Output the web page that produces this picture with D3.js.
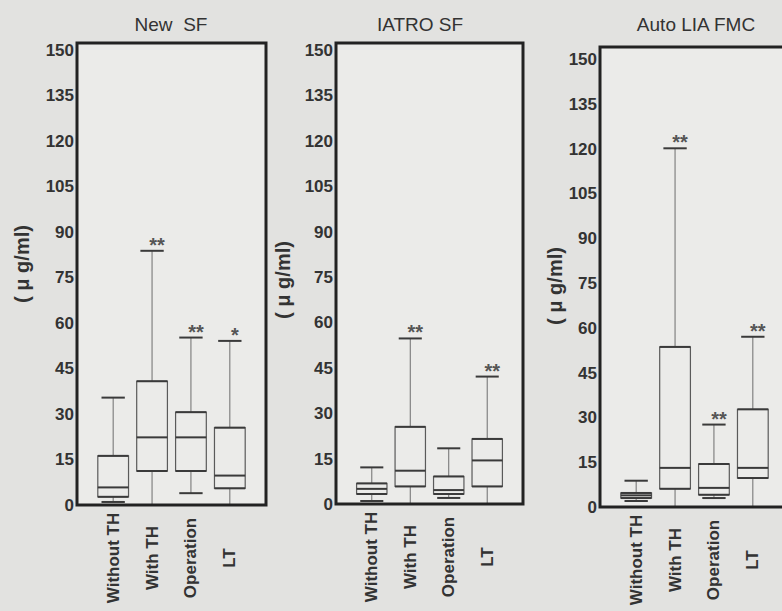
<!DOCTYPE html>
<html>
<head>
<meta charset="utf-8">
<script src="https://cdn.jsdelivr.net/npm/d3@7"></script>
<style>
  html, body { margin: 0; padding: 0; background: #e2e2e0; }
  svg { display: block; }
</style>
</head>
<body>
<svg id="chart" width="782" height="611"></svg>
<script>
// ---------------- data ----------------
const categories = ["Without TH", "With TH", "Operation", "LT"];
const panelTitles = ["New  SF", "IATRO SF", "Auto LIA FMC"];
const yTickValues = [0, 15, 30, 45, 60, 75, 90, 105, 120, 135, 150];
const yLabel = "( \u03bc g/ml)";

// New SF
const newSF_low  = [1.0, 0.0, 3.9, 0.0];
const newSF_q1   = [2.7, 11.2, 11.2, 5.5];
const newSF_med  = [5.8, 22.3, 22.3, 9.7];
const newSF_q3   = [16.2, 40.8, 30.6, 25.5];
const newSF_high = [35.4, 83.8, 55.2, 54.1];
const newSF_sig  = ["", "**", "**", "*"];

// IATRO SF
const iatro_low  = [1.0, 0.0, 2.0, 0.0];
const iatro_q1   = [3.3, 5.8, 3.3, 5.8];
const iatro_med  = [5.0, 11.0, 4.6, 14.4];
const iatro_q3   = [6.8, 25.5, 9.1, 21.5];
const iatro_high = [12.1, 54.7, 18.4, 42.1];
const iatro_sig  = ["", "**", "", "**"];

// Auto LIA FMC
const auto_low  = [2.0, 0.0, 3.0, 0.0];
const auto_q1   = [3.0, 6.1, 4.1, 9.7];
const auto_med  = [3.9, 13.1, 6.4, 13.1];
const auto_q3   = [4.7, 53.6, 14.4, 32.7];
const auto_high = [8.8, 120.1, 27.6, 57.0];
const auto_sig  = ["", "**", "**", "**"];

// ---------------- layout ----------------
const panels = [
  { title: panelTitles[0], low: newSF_low, q1: newSF_q1, med: newSF_med, q3: newSF_q3, high: newSF_high, sig: newSF_sig,
    x0: 77, x1: 266, yBottom: 505, yTop150: 50, frameTop: 43, titleX: 171, ylx: 22, yly: 264 },
  { title: panelTitles[1], low: iatro_low, q1: iatro_q1, med: iatro_med, q3: iatro_q3, high: iatro_high, sig: iatro_sig,
    x0: 336, x1: 523, yBottom: 504, yTop150: 50, frameTop: 43, titleX: 420, ylx: 283, yly: 280 },
  { title: panelTitles[2], low: auto_low, q1: auto_q1, med: auto_med, q3: auto_q3, high: auto_high, sig: auto_sig,
    x0: 600, x1: 789, yBottom: 507, yTop150: 59, frameTop: 47, titleX: 696, ylx: 555, yly: 286 }
];

const svg = d3.select("#chart");
const FONT = "'Liberation Sans', Arial, Helvetica, sans-serif";

panels.forEach(p => {
  const x = d3.scalePoint().domain(categories).range([p.x0, p.x1]).padding(0.93);
  const y = d3.scaleLinear().domain([0, 150]).range([p.yBottom, p.yTop150]);
  const step = x.step();
  const boxW = step * 0.79;
  const capW = step * 0.6;

  const g = svg.append("g");

  // plot interior
  g.append("rect")
    .attr("x", p.x0).attr("y", p.frameTop)
    .attr("width", p.x1 - p.x0).attr("height", y(0) - p.frameTop)
    .attr("fill", "#ebebe9");

  const rows = categories.map((c, i) => ({
    c, low: p.low[i], q1: p.q1[i], med: p.med[i], q3: p.q3[i], high: p.high[i], sig: p.sig[i]
  }));

  // whiskers
  g.selectAll(".whisker").data(rows).join("line")
    .attr("x1", d => x(d.c)).attr("x2", d => x(d.c))
    .attr("y1", d => y(d.low)).attr("y2", d => y(d.high))
    .attr("stroke", "#6e6e6e").attr("stroke-width", 1);

  // caps
  g.selectAll(".capHigh").data(rows).join("line")
    .attr("x1", d => x(d.c) - capW / 2).attr("x2", d => x(d.c) + capW / 2)
    .attr("y1", d => y(d.high)).attr("y2", d => y(d.high))
    .attr("stroke", "#3a3a3a").attr("stroke-width", 2);
  g.selectAll(".capLow").data(rows).join("line")
    .attr("x1", d => x(d.c) - capW / 2).attr("x2", d => x(d.c) + capW / 2)
    .attr("y1", d => y(d.low)).attr("y2", d => y(d.low))
    .attr("stroke", "#3a3a3a").attr("stroke-width", 2);

  // boxes
  g.selectAll(".box").data(rows).join("rect")
    .attr("x", d => x(d.c) - boxW / 2)
    .attr("y", d => y(d.q3))
    .attr("width", boxW)
    .attr("height", d => y(d.q1) - y(d.q3))
    .attr("fill", "#ebebe9")
    .attr("stroke", "#5a5a5a").attr("stroke-width", 1.2);

  // box top / bottom edges and median (heavier)
  ["q1", "q3", "med"].forEach(k => {
    g.selectAll(".edge-" + k).data(rows).join("line")
      .attr("x1", d => x(d.c) - boxW / 2).attr("x2", d => x(d.c) + boxW / 2)
      .attr("y1", d => y(d[k])).attr("y2", d => y(d[k]))
      .attr("stroke", "#3a3a3a").attr("stroke-width", 2);
  });

  // significance stars
  g.selectAll(".sig").data(rows.filter(d => d.sig)).join("text")
    .attr("x", d => x(d.c) + 5)
    .attr("y", d => y(d.high) + 1)
    .attr("text-anchor", "middle")
    .attr("font-family", FONT).attr("font-size", 20).attr("font-weight", "bold")
    .attr("fill", "#555")
    .text(d => d.sig);

  // frame
  g.append("rect")
    .attr("x", p.x0).attr("y", p.frameTop)
    .attr("width", p.x1 - p.x0).attr("height", y(0) - p.frameTop)
    .attr("fill", "none").attr("stroke", "#222").attr("stroke-width", 3);

  // y axis
  const yAxis = d3.axisLeft(y).tickValues(yTickValues).tickSize(0).tickPadding(3).tickFormat(d3.format("d"));
  const ya = g.append("g").attr("transform", `translate(${p.x0},0)`).call(yAxis);
  ya.select(".domain").remove();
  ya.selectAll("text")
    .attr("font-family", FONT).attr("font-size", 17).attr("font-weight", "bold")
    .attr("fill", "#333");

  // x axis labels (rotated)
  const xAxis = d3.axisBottom(x).tickSize(0).tickPadding(0);
  const xa = g.append("g").attr("transform", `translate(0,${y(0)})`).call(xAxis);
  xa.select(".domain").remove();
  xa.selectAll("text")
    .attr("font-family", FONT).attr("font-size", 17).attr("font-weight", "bold")
    .attr("fill", "#333")
    .attr("text-anchor", "middle")
    .attr("dy", null)
    .attr("y", 0)
    .attr("transform", "translate(5,53) rotate(-90)");

  // title
  g.append("text")
    .attr("x", p.titleX).attr("y", 31)
    .attr("text-anchor", "middle")
    .attr("font-family", FONT).attr("font-size", 19)
    .attr("fill", "#333")
    .style("white-space", "pre")
    .attr("xml:space", "preserve")
    .text(p.title);

  // y label
  g.append("text")
    .attr("transform", `translate(${p.ylx + 7},${p.yly}) rotate(-90)`)
    .attr("text-anchor", "middle")
    .attr("font-family", FONT).attr("font-size", 20).attr("font-weight", "bold")
    .attr("fill", "#333")
    .style("white-space", "pre")
    .text(yLabel);
});
</script>
</body>
</html>
